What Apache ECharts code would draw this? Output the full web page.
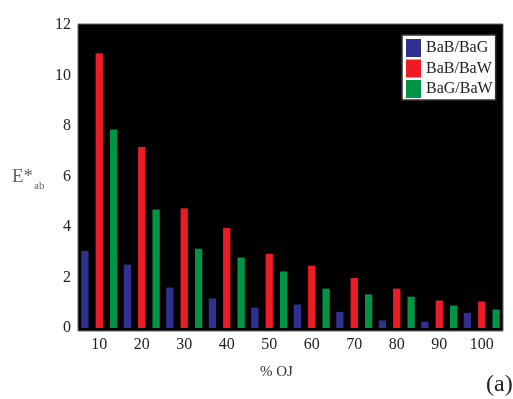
<!DOCTYPE html>
<html>
<head>
<meta charset="utf-8">
<script src="https://cdn.jsdelivr.net/npm/echarts@6/dist/echarts.min.js"></script>
<style>
  html, body { margin: 0; padding: 0; background: #fff; }
  #chart { width: 513px; height: 399px; }
</style>
</head>
<body>
<div id="chart"></div>
<script>
// Colour difference E*ab between beverage pairs at each % orange juice
const categories = ['10', '20', '30', '40', '50', '60', '70', '80', '90', '100'];
const seriesNames = ['BaB/BaG', 'BaB/BaW', 'BaG/BaW'];
const babBag = [3.05, 2.51, 1.60, 1.17, 0.81, 0.93, 0.64, 0.30, 0.25, 0.60];
const babBaw = [10.88, 7.17, 4.74, 3.96, 2.94, 2.47, 1.98, 1.56, 1.09, 1.05];
const bagBaw = [7.86, 4.69, 3.14, 2.79, 2.24, 1.56, 1.33, 1.24, 0.89, 0.73];
const yTicks = [0, 2, 4, 6, 8, 10, 12];

const colors = ['#2e3192', '#ed1c24', '#009444'];
const serif = '"Liberation Serif", "DejaVu Serif", serif';

const chart = echarts.init(document.getElementById('chart'));

function barSeries(name, data, color) {
  return {
    name: name,
    type: 'bar',
    data: data,
    barWidth: 7.3,
    barGap: '97%',
    itemStyle: { color: color },
    z: 5
  };
}

chart.setOption({
  animation: false,
  backgroundColor: '#fff',
  grid: { left: 78, right: 10, top: 25, bottom: 71 },
  graphic: [
    {
      type: 'rect',
      z: -10,
      silent: true,
      shape: { x: 78, y: 24, width: 425, height: 307 },
      style: { fill: '#000', stroke: '#666', lineWidth: 1 }
    },
    {
      type: 'text',
      left: 12,
      top: 168,
      style: {
        text: '{e|E*}{s|ab}',
        rich: {
          e: { fontFamily: serif, fontSize: 19, fill: '#666', verticalAlign: 'bottom', height: 20 },
          s: { fontFamily: serif, fontSize: 11, fill: '#666', verticalAlign: 'bottom', padding: [0, 0, -4, 1] }
        }
      }
    },
    {
      type: 'text',
      left: 260,
      top: 365,
      style: { text: '% OJ', fontFamily: serif, fontSize: 15, fill: '#333' }
    },
    {
      type: 'text',
      left: 486,
      top: 373,
      style: { text: '(a)', fontFamily: serif, fontSize: 24, fill: '#222' }
    }
  ],
  legend: {
    data: seriesNames,
    orient: 'vertical',
    left: 402,
    top: 35,
    icon: 'rect',
    itemWidth: 15,
    itemHeight: 18,
    itemGap: 2.5,
    padding: [4, 3, 2, 4],
    backgroundColor: '#fff',
    borderColor: '#333',
    borderWidth: 1.5,
    borderRadius: 0,
    textStyle: { fontFamily: serif, fontSize: 16, color: '#222' }
  },
  xAxis: {
    type: 'category',
    data: categories,
    boundaryGap: true,
    axisLine: { show: false },
    axisTick: { show: false },
    axisLabel: { fontFamily: serif, fontSize: 16, color: '#222', margin: 9 }
  },
  yAxis: {
    type: 'value',
    min: yTicks[0],
    max: yTicks[yTicks.length - 1],
    interval: yTicks[1] - yTicks[0],
    axisLine: { show: false },
    axisTick: { show: false },
    splitLine: { show: false },
    axisLabel: { fontFamily: serif, fontSize: 16, color: '#222', margin: 7 }
  },
  series: [
    barSeries(seriesNames[0], babBag, colors[0]),
    barSeries(seriesNames[1], babBaw, colors[1]),
    barSeries(seriesNames[2], bagBaw, colors[2])
  ]
});
</script>
</body>
</html>
